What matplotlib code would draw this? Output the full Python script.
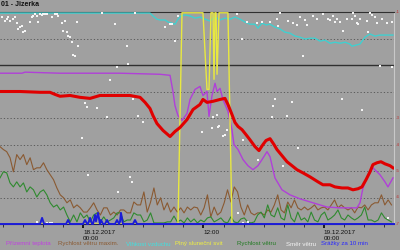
"""Meteo station chart 01 - Jizerka, 17.-19.12.2017 (values in grid units 0-8)."""
import numpy as np
import matplotlib

matplotlib.use("Agg")
import matplotlib.pyplot as plt
from matplotlib.ticker import MultipleLocator

BG = "#a0a0a0"

# time axis: hours from 18.12.2017 00:00
X_MIN, X_MAX = -8.27, 30.98

# wind series sampled every 20 minutes, starting at X_MIN
WIND_STEP = 1.0 / 3.0
wind_max = [2.92, 2.81, 2.73, 2.50, 1.97, 2.62, 2.43, 2.62, 2.24, 2.50,
            2.05, 2.12, 2.12, 2.31, 2.05, 1.86, 1.67, 1.36, 1.10, 0.99,
            0.80, 0.91, 0.61, 0.72, 0.61, 0.45, 0.45, 0.61, 0.80, 0.53,
            0.34, 0.61, 0.61, 0.34, 0.45, 0.34, 0.53, 0.53, 0.42, 0.42,
            0.83, 0.72, 0.72, 1.21, 0.45, 0.83, 1.36, 0.72, 0.99, 0.53,
            0.80, 0.45, 0.64, 0.45, 0.61, 0.42, 0.64, 0.53, 0.64, 0.61,
            0.34, 0.61, 1.10, 0.27, 0.64, 0.34, 0.45, 0.80, 1.29, 0.83,
            1.40, 1.21, 0.64, 0.34, 0.72, 0.42, 0.34, 0.42, 0.42, 0.34,
            0.53, 0.45, 0.72, 1.10, 0.53, 0.42, 0.83, 0.61, 0.91, 0.61,
            0.53, 0.64, 0.53, 0.61, 0.72, 0.53, 0.61, 0.64, 0.53, 0.72,
            0.91, 0.61, 0.72, 0.61, 0.53, 0.61, 0.42, 0.64, 0.61, 0.72,
            0.53, 0.72, 0.80, 0.80, 1.10, 0.72, 0.91, 0.72]
wind_avg = [1.74, 1.97, 1.93, 1.55, 1.40, 1.59, 1.40, 1.55, 1.21, 1.40,
            1.29, 1.02, 1.21, 1.29, 1.10, 0.80, 0.64, 0.72, 0.53, 0.64,
            0.34, 0.08, 0.34, 0.08, 0.42, 0.23, 0.34, 0.08, 0.34, 0.42,
            0.08, 0.27, 0.08, 0.15, 0.23, 0.42, 0.42, 0.08, 0.15, 0.15,
            0.42, 0.34, 0.34, 0.08, 0.15, 0.42, 0.04, 0.04, 0.04, 0.04,
            0.08, 0.08, 0.30, 0.08, 0.15, 0.04, 0.23, 0.08, 0.19, 0.04,
            0.15, 0.08, 0.23, 0.27, 0.08, 0.15, 0.23, 0.08, 0.04, 0.27,
            0.08, 0.04, 0.19, 0.23, 0.08, 0.04, 0.08, 0.34, 0.45, 0.23,
            0.72, 0.34, 0.27, 0.61, 0.23, 0.15, 0.72, 0.23, 0.08, 0.45,
            0.15, 0.23, 0.08, 0.45, 0.15, 0.08, 0.34, 0.45, 0.15, 0.23,
            0.34, 0.53, 0.23, 0.15, 0.34, 0.23, 0.15, 0.23, 0.34, 0.64,
            0.15, 0.15, 0.08, 0.15, 0.42, 0.23, 0.15, 0.08]

temp_t = [-8.27, -6.27, -4.28, -3.29, -2.79, -2.29, -1.29, -0.30, 0.70, 1.69,
          3.69, 4.68, 5.68, 6.18, 6.67, 6.97, 7.37, 7.97, 8.67, 9.16,
          9.66, 10.36, 10.96, 11.65, 11.95, 12.35, 12.95, 13.65, 14.14, 14.44,
          14.84, 15.14, 15.44, 15.84, 16.24, 16.63, 17.13, 17.53, 17.93, 18.23,
          18.63, 19.02, 19.32, 19.82, 20.32, 20.82, 21.31, 21.91, 22.61, 23.41,
          23.90, 24.60, 25.10, 25.80, 26.39, 26.89, 27.39, 27.79, 28.19, 28.59,
          28.88, 29.28, 29.68, 30.08, 30.58, 30.88]
temp_v = [5.00, 5.00, 4.97, 4.97, 4.89, 4.82, 4.85, 4.78, 4.74, 4.85,
          4.85, 4.85, 4.78, 4.59, 4.36, 4.09, 3.79, 3.53, 3.30, 3.49,
          3.64, 3.94, 4.32, 4.51, 4.70, 4.59, 4.63, 4.70, 4.74, 4.51,
          4.13, 3.83, 3.68, 3.56, 3.37, 3.18, 2.92, 2.77, 3.00, 3.15,
          3.22, 3.00, 2.81, 2.58, 2.35, 2.20, 2.05, 1.93, 1.78, 1.59,
          1.48, 1.48, 1.40, 1.36, 1.36, 1.29, 1.33, 1.40, 1.67, 1.97,
          2.24, 2.31, 2.35, 2.27, 2.20, 2.12]

ground_t = [-8.27, -6.08, -5.78, -2.29, 3.69, 7.67, 8.67, 8.96, 9.16, 9.46,
            9.86, 10.36, 10.66, 11.16, 11.65, 11.95, 12.35, 12.55, 12.85, 13.15,
            13.35, 13.65, 13.94, 14.44, 14.84, 15.04, 15.44, 15.94, 16.43, 16.93,
            17.43, 17.83, 18.33, 18.63, 19.12, 19.82, 20.62, 21.61, 22.91, 24.30,
            25.60, 27.29, 27.59, 27.89, 28.39, 28.88, 29.58, 30.08, 30.38, 30.88]
ground_v = [5.69, 5.69, 5.73, 5.69, 5.69, 5.65, 5.61, 5.00, 4.47, 4.09,
            3.91, 4.17, 4.70, 5.08, 5.19, 4.85, 5.00, 4.06, 4.85, 5.31,
            5.00, 5.12, 4.70, 4.25, 3.56, 3.00, 2.81, 2.43, 2.20, 2.05,
            2.20, 2.43, 2.73, 2.54, 1.74, 1.29, 1.10, 0.95, 0.80, 0.64,
            0.61, 0.61, 0.80, 1.36, 1.86, 2.12, 1.86, 1.59, 1.40, 1.74]

humid_t = [-8.27, 6.67, 6.97, 7.37, 7.67, 8.17, 8.47, 8.86, 9.16, 9.46,
           9.76, 10.16, 10.66, 11.16, 11.65, 12.15, 12.65, 13.15, 13.65, 14.14,
           14.64, 15.14, 15.64, 16.14, 16.63, 17.13, 17.43, 17.83, 18.23, 18.63,
           19.12, 19.62, 20.12, 20.62, 21.12, 21.61, 22.11, 22.61, 23.11, 23.61,
           24.10, 24.60, 25.10, 25.60, 26.10, 26.59, 26.79, 27.19, 27.59, 28.09,
           28.59, 29.08, 29.58, 30.08, 30.88]
humid_v = [7.96, 7.96, 7.85, 7.73, 7.70, 7.70, 7.62, 7.58, 7.54, 7.73,
           7.85, 7.89, 7.85, 7.77, 7.81, 7.73, 7.66, 7.81, 7.70, 7.77,
           7.73, 7.81, 7.73, 7.62, 7.54, 7.54, 7.39, 7.58, 7.51, 7.54,
           7.43, 7.36, 7.24, 7.20, 7.09, 7.05, 6.98, 7.01, 7.01, 6.90,
           6.94, 6.82, 6.86, 6.82, 6.86, 6.79, 6.71, 6.75, 6.79, 7.05,
           7.17, 7.09, 7.13, 7.13, 7.13]

sun_t = [-8.27, 9.46, 9.86, 11.95, 12.35, 12.55, 12.75, 12.95, 13.05, 13.15,
         13.25, 13.35, 13.55, 14.44, 14.84, 30.98]
sun_v = [0.0, 0.0, 7.97, 7.97, 5.08, 5.08, 7.97, 7.97, 5.46, 7.97,
         7.97, 5.65, 7.97, 7.97, 0.0, 0.0]

rain_t = [-8.27, -4.28, -4.08, -3.88, -1.69, -1.49, -1.29, 0.00, 0.20, 0.40,
          0.50, 0.70, 0.90, 1.00, 1.20, 1.29, 1.49, 1.69, 1.79, 1.99,
          2.19, 2.39, 2.59, 3.19, 3.39, 3.59, 3.69, 3.78, 3.98, 4.98,
          5.18, 5.38, 30.98]
rain_v = [0.0, 0.0, 0.23, 0.0, 0.0, 0.15, 0.0, 0.0, 0.15, 0.0,
          0.0, 0.23, 0.0, 0.0, 0.34, 0.10, 0.42, 0.0, 0.15, 0.0,
          0.0, 0.15, 0.0, 0.0, 0.15, 0.0, 0.10, 0.42, 0.0, 0.0,
          0.15, 0.0, 0.0]

dir_t = [-8.07, -7.77, -7.57, -7.47, -7.27, -6.97, -6.77, -6.57, -6.47, -6.27,
         -6.08, -5.98, -5.78, -5.28, -5.08, -4.98, -4.78, -4.58, -4.48, -4.28,
         -4.08, -3.98, -3.78, -3.59, -3.09, -2.79, -2.59, -2.49, -2.09, -1.99,
         -1.79, -1.59, -1.49, -1.29, -1.10, -1.00, -0.80, -0.60, -0.50, 0.20,
         0.40, 1.39, 1.89, 2.39, 2.69, 3.19, 3.39, 4.38, 4.48, 5.18,
         4.98, 5.48, 5.98, 8.17, 8.67, 8.86, 9.16, 9.46,
         -0.10, 0.50, 4.68, 4.88, 3.49, -4.58, -3.59, -3.29, -3.09,
         15.34, 15.84, 16.33, 17.33, 17.83, 18.63, 19.32, 19.42, 19.62, 20.42,
         20.92, 21.31, 21.61, 22.11, 22.31, 21.91, 22.91, 23.31, 23.90, 24.40,
         24.60, 24.90, 25.10, 25.30, 25.60, 25.90, 26.29, 26.79, 26.89, 27.09,
         27.29, 27.39, 27.59, 27.79, 28.29, 28.39, 28.59, 28.78, 29.08, 29.28,
         29.78, 30.28, 30.78, 29.58, 30.78, 19.12, 18.92, 20.82, 20.32, 18.82,
         25.80, 13.35, 12.95,
         12.85, 13.45, 14.14, 15.94, 17.43, 19.92, 21.41, 15.44, 16.43, 30.38,
         11.85, 13.55, 13.94, 14.34, 15.94]
dir_v = [7.80, 7.65, 7.73, 7.80, 7.65, 7.73, 7.80, 7.58, 7.35, 7.42,
         7.46, 7.23, 7.27, 7.61, 7.80, 7.84, 7.92, 7.84, 7.61, 7.92,
         7.88, 7.92, 7.92, 7.92, 7.80, 7.92, 7.92, 7.84, 7.58, 7.27,
         7.65, 7.23, 7.08, 7.05, 6.86, 6.36, 6.33, 7.61, 6.70, 4.58,
         4.43, 4.39, 7.95, 4.02, 5.42, 7.54, 5.91, 6.70, 6.02, 7.95,
         4.70, 4.09, 3.86, 7.42, 7.54, 7.54, 6.89, 7.84,
         3.26, 1.86, 1.78, 1.59, 1.21, 0.08, 0.04, 0.04, 0.04,
         7.92, 6.97, 7.61, 7.58, 7.61, 7.61, 7.73, 7.46, 7.95, 7.65,
         7.58, 7.50, 7.80, 7.69, 7.50, 6.33, 7.84, 7.73, 7.92, 7.73,
         7.69, 7.84, 7.61, 7.73, 7.61, 7.27, 7.73, 7.73, 7.95, 7.84,
         7.58, 7.54, 7.73, 4.32, 7.65, 7.23, 7.95, 7.88, 7.80, 7.58,
         7.73, 7.58, 7.61, 5.95, 5.91, 4.73, 4.47, 4.62, 4.09, 4.02,
         4.70, 4.13, 4.05,
         3.64, 3.67, 3.37, 3.18, 2.42, 2.20, 2.88, 0.42, 0.08, 0.23,
         3.48, 3.71, 3.33, 3.56, 0.02]

legend_names = ["Přízemní teplota", "Rychlost větru maxim.", "Vlhkost vzduchu",
                "Plný sluneční svit", "Rychlost větru", "Směr větru",
                "Srážky za 10 min"]
legend_colors = ["#c040e0", "#8a5a32", "#40e0e0", "#f0f040", "#207a20",
                 "#f4f4f4", "#2828ff"]
legend_x = [6, 58, 126, 175, 237, 286, 321]

right_labels = ["-1", "-3", "-4", "-5", "-6", "-7"]
right_pos = [8, 4, 3, 2, 1, 0]

plt.rcParams["font.family"] = ["Liberation Sans", "DejaVu Sans"]

fig = plt.figure(figsize=(4, 2.5), dpi=100, facecolor=BG)
ax = fig.add_axes([0, 26 / 250, 394 / 400, 212 / 250], facecolor=BG)
ax.set_xlim(X_MIN, X_MAX)
ax.set_ylim(0, 8)

for g in range(1, 8):
    if g == 6:
        ax.axhline(g, color="#303030", lw=1.0, zorder=1)
    else:
        ax.axhline(g, color="#505050", lw=0.6, ls=(0, (1.5, 2.5)), zorder=1)

wind_t_max = X_MIN + WIND_STEP * np.arange(len(wind_max))
wind_t_avg = X_MIN + WIND_STEP * np.arange(len(wind_avg))
ax.plot(wind_t_max, wind_max, color="#8a5a32", lw=0.8, zorder=2)
ax.plot(wind_t_avg, wind_avg, color="#2f8a2f", lw=0.8, zorder=3)
ax.plot(ground_t, ground_v, color="#b040d8", lw=1.0, zorder=4)
ax.plot(humid_t, humid_v, color="#40d0d0", lw=1.0, zorder=4)
ax.plot(sun_t, sun_v, color="#e8e840", lw=1.0, zorder=5)
ax.plot(temp_t, temp_v, color="#e00000", lw=2.2, zorder=6)
ax.plot(dir_t, dir_v, ls="none", marker="s", ms=1.6, mew=0,
        color="#f4f4f4", zorder=7, clip_on=True)
ax.plot(rain_t, rain_v, color="#1c1cd8", lw=1.4, zorder=8, clip_on=False)

ax.spines["left"].set_visible(False)
ax.spines["top"].set_color("#303030")
ax.spines["right"].set_color("#c8c8c8")
ax.spines["bottom"].set_color("#202060")

ax.yaxis.set_visible(False)
ax.set_xticks([0, 12, 24])
ax.set_xticklabels(["18.12.2017\n00:00", "12:00", "19.12.2017\n00:00"],
                   ha="left", fontsize=4.6, color="#101010", linespacing=1.3)
ax.xaxis.set_minor_locator(MultipleLocator(2))
ax.tick_params(axis="x", which="major", length=3, width=1.3, pad=1, color="#101010")
ax.tick_params(axis="x", which="minor", length=2, width=0.6, color="#202020")

fig.text(1 / 400, 1 - 5 / 250, "01 - Jizerka", fontsize=5, fontweight="bold",
         color="#101010", ha="left", va="center")

for name, col, x in zip(legend_names, legend_colors, legend_x):
    fig.text(x / 400, 6 / 250, name, fontsize=4.4, color=col, ha="left", va="center")

for lab, g in zip(right_labels, right_pos):
    y = ax.transData.transform((0, g))[1] / fig.bbox.height
    fig.text(395.5 / 400, y, lab, fontsize=3.2, color="#c03030", ha="left", va="center")

fig.savefig("out.png", dpi=100, facecolor=BG)
